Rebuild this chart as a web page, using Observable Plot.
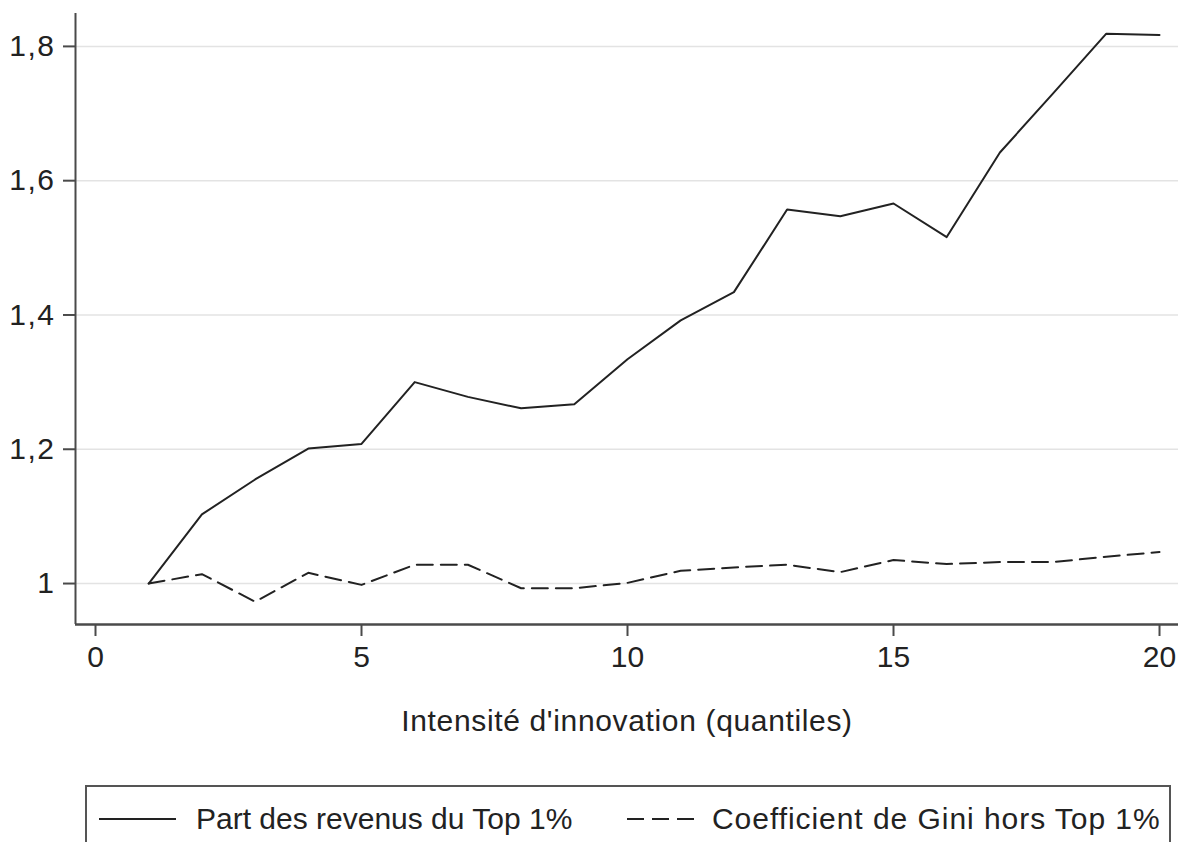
<!DOCTYPE html>
<html>
<head>
<meta charset="utf-8">
<script src="https://cdn.jsdelivr.net/npm/d3@7"></script>
<script src="https://cdn.jsdelivr.net/npm/@observablehq/plot@0.6"></script>
<style>
  body { margin: 0; background: #fff; font-family: "Liberation Sans", Arial, Helvetica, sans-serif; }
  #chart { position: absolute; left: 0; top: 0; }
  #legend {
    position: absolute; left: 85px; top: 785px; width: 1086px; height: 80px;
    box-sizing: border-box; border: 2px solid #555; background: #fff;
    font-size: 30px; color: #222;
  }
  .item { position: absolute; top: 12px; display: flex; align-items: center; height: 40px; white-space: nowrap; }
  .item svg { display: block; }
  [aria-label="y-axis tick label"] text { letter-spacing: 1.5px; }
  .xlabel text { letter-spacing: 0.65px; }
</style>
</head>
<body>
<div id="chart"></div>
<div id="legend">
  <div class="item" style="left:12px">
    <svg width="77" height="10"><line x1="0" x2="77" y1="5" y2="5" stroke="#222" stroke-width="2"/></svg>
    <span style="margin-left:20px">Part des revenus du Top 1%</span>
  </div>
  <div class="item" style="left:540px">
    <svg width="67" height="10"><line x1="0" x2="67" y1="5" y2="5" stroke="#222" stroke-width="2" stroke-dasharray="17,8"/></svg>
    <span style="margin-left:18px;letter-spacing:0.95px">Coefficient de Gini hors Top 1%</span>
  </div>
</div>
<script>
// Innovation-intensity quantiles and the two normalised inequality measures
const quantiles = [1, 2, 3, 4, 5, 6, 7, 8, 9, 10, 11, 12, 13, 14, 15, 16, 17, 18, 19, 20];
const top1Share = [1.000, 1.103, 1.155, 1.201, 1.208, 1.300, 1.278, 1.261, 1.267, 1.334,
                   1.392, 1.434, 1.557, 1.547, 1.566, 1.516, 1.642, 1.730, 1.819, 1.817];
const giniExTop1 = [1.000, 1.014, 0.973, 1.016, 0.998, 1.028, 1.028, 0.993, 0.993, 1.001,
                    1.019, 1.024, 1.028, 1.017, 1.035, 1.029, 1.032, 1.032, 1.040, 1.047];

const xTicks = [0, 5, 10, 15, 20];
const yTicks = [1, 1.2, 1.4, 1.6, 1.8];
const xDomain = [-0.376, 20.357];
const yDomain = [0.939, 1.849];
const xLabel = "Intensité d'innovation (quantiles)";

const rows = quantiles.map((q, i) => ({q, top1: top1Share[i], gini: giniExTop1[i]}));
const commaFormat = d => String(d).replace(".", ",");

const ink = "#222";
const axisInk = "#4a4a4a";

const chart = Plot.plot({
  width: 1182,
  height: 745,
  marginLeft: 75,
  marginRight: 4,
  marginTop: 13,
  marginBottom: 121,
  style: {fontFamily: '"Liberation Sans", Arial, Helvetica, sans-serif', fontSize: "30px", color: ink, background: "#fff"},
  x: {domain: xDomain},
  y: {domain: yDomain},
  marks: [
    Plot.gridY(yTicks, {stroke: "#e3e3e3", strokeOpacity: 1, strokeWidth: 1.5}),
    Plot.axisY(yTicks, {tickSize: 12, tickPadding: 8, tickFormat: commaFormat, label: null,
                        stroke: axisInk, strokeWidth: 2, fill: ink, fontSize: 30}),
    Plot.axisX(xTicks, {tickSize: 12, tickPadding: 9, label: null,
                        stroke: axisInk, strokeWidth: 2, fill: ink, fontSize: 30}),
    Plot.ruleX([xDomain[0]], {stroke: axisInk, strokeWidth: 2}),
    Plot.ruleY([yDomain[0]], {stroke: axisInk, strokeWidth: 2.5}),
    Plot.line(rows, {x: "q", y: "top1", stroke: ink, strokeWidth: 2}),
    Plot.line(rows, {x: "q", y: "gini", stroke: ink, strokeWidth: 2, strokeDasharray: "16,8"}),
    Plot.text([xLabel], {frameAnchor: "bottom", dy: 97, lineAnchor: "middle", text: d => d,
                         fill: ink, fontSize: 30, className: "xlabel"})
  ]
});
document.getElementById("chart").appendChild(chart);
</script>
</body>
</html>
